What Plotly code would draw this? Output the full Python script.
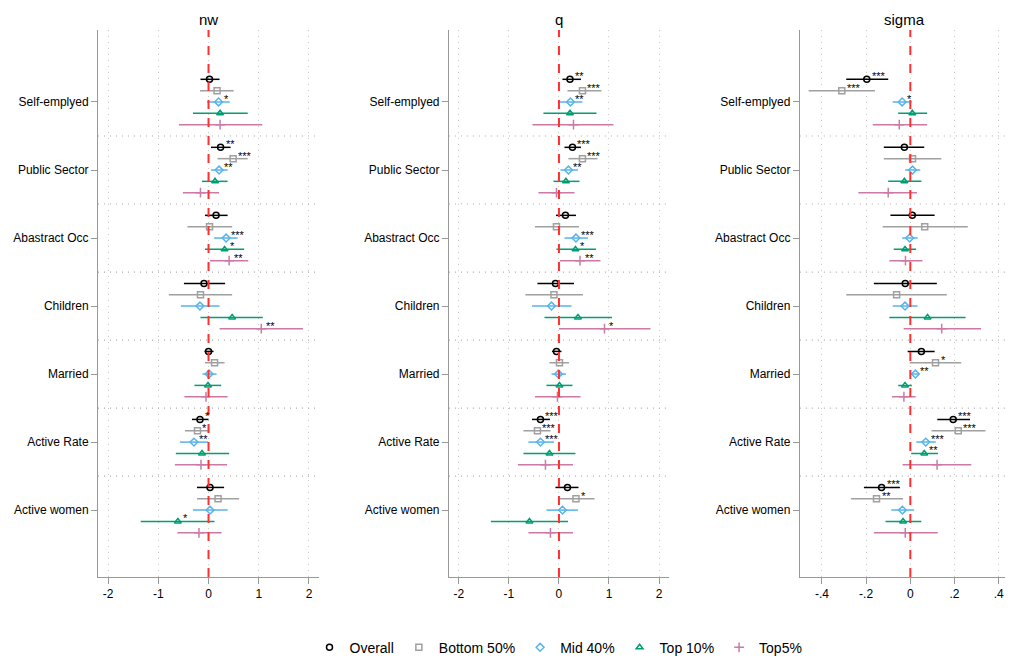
import plotly.graph_objects as go

categories = ["Self-emplyed", "Public Sector", "Abastract Occ", "Children", "Married", "Active Rate", "Active women"]
series = ["Overall", "Bottom 50%", "Mid 40%", "Top 10%", "Top5%"]

nw_est = [[0.02,0.17,0.20,0.23,0.23],[0.24,0.49,0.21,0.13,-0.16],[0.15,0.02,0.35,0.32,0.41],[-0.09,-0.16,-0.17,0.47,1.05],[0.0,0.12,0.01,-0.01,-0.05],[-0.17,-0.22,-0.29,-0.13,-0.15],[0.03,0.19,0.03,-0.61,-0.19]]
nw_lo = [[-0.16,-0.17,-0.03,-0.31,-0.59],[0.05,0.18,0.05,-0.13,-0.51],[-0.07,-0.42,0.11,-0.07,0.03],[-0.49,-0.79,-0.55,-0.16,0.22],[-0.08,-0.07,-0.12,-0.28,-0.48],[-0.33,-0.47,-0.57,-0.65,-0.67],[-0.23,-0.23,-0.31,-1.35,-0.62]]
nw_hi = [[0.22,0.50,0.42,0.78,1.07],[0.44,0.78,0.38,0.38,0.21],[0.38,0.47,0.58,0.71,0.79],[0.33,0.47,0.22,1.08,1.88],[0.10,0.32,0.16,0.25,0.38],[0.0,0.02,-0.01,0.41,0.37],[0.31,0.61,0.38,0.12,0.26]]
nw_star = [["","","*","",""],["**","***","**","",""],["","","***","*","**"],["","","","","**"],["","","","",""],["*","*","**","",""],["","","","*",""]]

q_est = [[0.22,0.47,0.23,0.22,0.29],[0.27,0.47,0.19,0.14,-0.05],[0.13,-0.05,0.34,0.33,0.42],[-0.07,-0.10,-0.15,0.38,0.91],[-0.05,0.01,-0.01,0.01,-0.03],[-0.37,-0.43,-0.37,-0.19,-0.27],[0.17,0.34,0.07,-0.59,-0.17]]
q_lo = [[0.07,0.17,0.02,-0.31,-0.53],[0.11,0.19,0.03,-0.11,-0.41],[-0.06,-0.48,0.11,-0.05,0.02],[-0.43,-0.67,-0.54,-0.29,0.0],[-0.14,-0.19,-0.15,-0.25,-0.48],[-0.54,-0.71,-0.61,-0.71,-0.82],[-0.07,-0.01,-0.25,-1.36,-0.61]]
q_hi = [[0.44,0.85,0.47,0.75,1.09],[0.44,0.77,0.38,0.41,0.31],[0.34,0.40,0.58,0.74,0.83],[0.30,0.48,0.25,1.06,1.83],[0.05,0.20,0.14,0.27,0.43],[-0.18,-0.17,-0.10,0.33,0.28],[0.39,0.71,0.38,0.18,0.28]]
q_star = [["**","***","**","",""],["***","***","**","",""],["","","***","*","**"],["","","","","*"],["","","","",""],["***","***","***","",""],["","*","","",""]]

s_est = [[-0.197,-0.31,-0.037,0.009,-0.05],[-0.027,0.01,0.01,-0.027,-0.10],[0.009,0.065,-0.003,-0.024,-0.022],[-0.023,-0.062,-0.024,0.078,0.142],[0.05,0.114,0.023,-0.024,-0.029],[0.194,0.217,0.07,0.063,0.121],[-0.13,-0.153,-0.036,-0.033,-0.023]]
s_lo = [[-0.29,-0.46,-0.08,-0.055,-0.17],[-0.12,-0.12,-0.023,-0.10,-0.235],[-0.09,-0.125,-0.037,-0.075,-0.095],[-0.165,-0.29,-0.08,-0.095,-0.03],[-0.012,-0.003,0.007,-0.055,-0.083],[0.122,0.096,0.027,0.004,-0.035],[-0.21,-0.268,-0.086,-0.112,-0.165]]
s_hi = [[-0.10,-0.16,0.006,0.076,0.076],[0.063,0.14,0.045,0.05,0.03],[0.11,0.26,0.033,0.026,0.055],[0.12,0.165,0.033,0.25,0.32],[0.11,0.23,0.039,0.007,0.024],[0.27,0.34,0.115,0.125,0.276],[-0.047,-0.033,0.017,0.05,0.124]]
s_star = [["***","***","*","",""],["","","","",""],["","","","",""],["","","","",""],["","*","**","",""],["***","***","***","**",""],["***","**","","",""]]

panels = [("nw", nw_est, nw_lo, nw_hi, nw_star, [-2.2, 2.2], [-2,-1,0,1,2], ["-2","-1","0","1","2"]),
          ("q", q_est, q_lo, q_hi, q_star, [-2.2, 2.2], [-2,-1,0,1,2], ["-2","-1","0","1","2"]),
          ("sigma", s_est, s_lo, s_hi, s_star, [-0.5, 0.45], [-0.4,-0.2,0,0.2,0.4], ["-.4","-.2","0",".2",".4"])]

colors = ["black", "#a0a0a0", "#56B4E9", "#009E73", "#CC79A7"]
symbols = ["circle-open", "square-open", "diamond-open", "triangle-up-open", "cross-thin-open"]
offsets = [2, 1, 0, -1, -2]
domains = [[0, 0.24], [0.381, 0.62], [0.762, 0.99]]

fig = go.Figure()
yc = [-6 * k for k in range(len(categories))]
for p, (name, est, lo, hi, star, xr, tv, tt) in enumerate(panels):
    xa = "x" if p == 0 else f"x{p+1}"
    ya = "y" if p == 0 else f"y{p+1}"
    for s in range(5):
        xs = [est[k][s] for k in range(7)]
        ys = [yc[k] + offsets[s] for k in range(7)]
        ep = [hi[k][s] - est[k][s] for k in range(7)]
        em = [est[k][s] - lo[k][s] for k in range(7)]
        fig.add_trace(go.Scatter(x=xs, y=ys, mode="markers", xaxis=xa, yaxis=ya,
            marker=dict(symbol=symbols[s], color=colors[s], size=6 if s != 4 else 7, line=dict(width=1.5, color=colors[s])),
            error_x=dict(type="data", symmetric=False, array=ep, arrayminus=em, width=0, thickness=1.5, color=colors[s]),
            name=series[s], showlegend=(p == 0), legendgroup=series[s]))
        for k in range(7):
            if star[k][s]:
                fig.add_annotation(x=xs[k], y=ys[k], xref=xa, yref=ya, text=star[k][s], showarrow=False,
                                   xanchor="left", yanchor="middle", xshift=3, yshift=3,
                                   font=dict(size=11, color="black"))
    fig.update_layout(**{
        ("xaxis" if p == 0 else f"xaxis{p+1}"): dict(domain=domains[p], range=xr, tickvals=tv, ticktext=tt,
            showline=True, linecolor="#999", ticks="outside", tickcolor="#999", ticklen=6, zeroline=False,
            showgrid=True, gridcolor="#c8c8c8", griddash="1px,5px", gridwidth=1, anchor=ya, automargin=False),
        ("yaxis" if p == 0 else f"yaxis{p+1}"): dict(range=[-41.9, 6.35], tickvals=yc, ticktext=categories,
            showline=True, linecolor="#999", ticks="outside", tickcolor="#999", ticklen=6, zeroline=False,
            showgrid=False, anchor=xa, tickfont=dict(size=12), automargin=False),
    })
    for k in range(6):
        fig.add_shape(type="line", xref=f"{xa} domain", yref=ya, x0=0, x1=1, y0=yc[k]-3, y1=yc[k]-3,
                      line=dict(color="#aaa", width=1.2, dash="1px,5px"))
    fig.add_shape(type="line", xref=xa, yref=f"{ya} domain", x0=0, x1=0, y0=0, y1=1,
                  line=dict(color="#ff3030", width=2, dash="dash"))
    fig.add_annotation(text=name, xref=f"{xa} domain", yref="paper", x=0.5, y=1, yanchor="bottom",
                       showarrow=False, font=dict(size=15, color="black"))

fig.update_layout(width=1013, height=658, margin=dict(l=90, r=2, t=22, b=83),
    paper_bgcolor="white", plot_bgcolor="white",
    font=dict(family="Liberation Sans, Arial", size=12, color="black"),
    legend=dict(orientation="h", x=0.5, xanchor="center", y=-0.1, yanchor="top", font=dict(size=14)))
fig.write_html("out.html")
